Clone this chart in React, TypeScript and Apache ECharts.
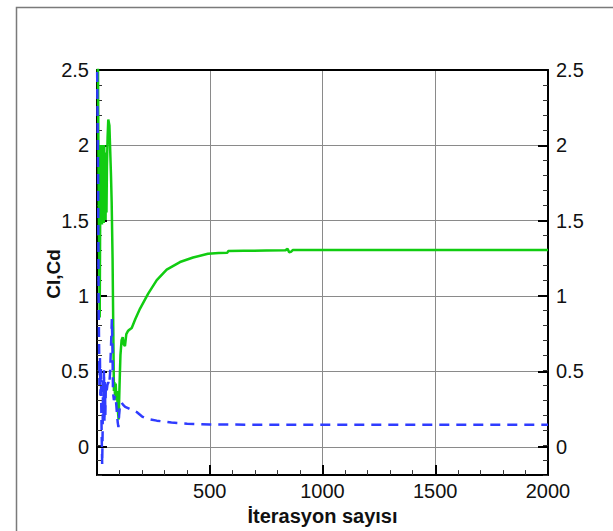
import React, { useEffect, useRef } from 'react';
import * as echarts from 'echarts';

// Cl (lift coefficient) history
const clIter = [0, 4, 7, 10, 12, 14, 16, 18, 20, 22, 24, 26, 28, 30, 32, 34, 36, 38, 40, 42, 44, 47, 50, 55, 62, 65, 69, 72, 75, 77, 80, 83, 86, 89, 92, 96, 100, 104, 109, 114, 119, 124, 130, 137, 145, 154, 170, 191, 227, 265, 309, 368, 426, 492, 540, 578, 582, 650, 750, 835, 845, 852, 860, 868, 1000, 1500, 2000];
const clValues = [2.6, 2.6, 1.8, 1.2, 0.85, 1.5, 2.0, 1.5, 1.95, 1.47, 2.0, 1.55, 1.98, 1.48, 2.0, 1.6, 1.95, 1.5, 1.9, 1.55, 1.85, 2.05, 2.17, 2.13, 1.8, 1.62, 1.25, 0.8, 0.36, 0.42, 0.33, 0.41, 0.3, 0.36, 0.24, 0.17, 0.4, 0.6, 0.7, 0.72, 0.67, 0.66, 0.74, 0.76, 0.77, 0.78, 0.84, 0.91, 1.01, 1.1, 1.17, 1.22, 1.25, 1.275, 1.28, 1.282, 1.293, 1.295, 1.297, 1.298, 1.308, 1.286, 1.288, 1.3, 1.3, 1.3, 1.3];

// Cd (drag coefficient) history
const cdIter = [0, 3, 5, 7, 9, 11, 13, 15, 17, 19, 21, 23, 25, 27, 29, 31, 33, 35, 37, 39, 42, 46, 50, 54, 58, 62, 66, 69, 71, 75, 80, 84, 88, 92, 95, 98, 102, 108, 115, 125, 140, 176, 200, 220, 265, 330, 400, 500, 700, 1000, 2000];
const cdValues = [2.6, 2.6, 1.8, 1.0, 0.7, 0.4, 0.58, 0.33, 0.52, 0.25, 0.05, -0.13, 0.1, 0.45, 0.2, 0.5, 0.15, 0.42, 0.2, 0.38, 0.35, 0.4, 0.42, 0.4, 0.48, 0.65, 0.84, 0.6, 0.35, 0.3, 0.33, 0.3, 0.22, 0.15, 0.12, 0.2, 0.27, 0.285, 0.27, 0.255, 0.245, 0.22, 0.19, 0.176, 0.163, 0.15, 0.142, 0.137, 0.136, 0.136, 0.136];

const xMin = 0;
const xMax = 2000;
const xStep = 500;
const yMin = -0.2;
const yMax = 2.5;
const yMinorStep = 0.1;
const yLabelMin = 0;
const yMajorStep = 0.5;

const xLabel = 'İterasyon sayısı';
const yLabel = 'Cl,Cd';

const FONT = 'Liberation Sans, Arial, Helvetica, sans-serif';

export default function App() {
  const ref = useRef<HTMLDivElement>(null);
  useEffect(() => {
    document.body.style.margin = '0';
    if (!ref.current) return;
    const chart = echarts.init(ref.current, undefined, { renderer: 'svg' });
    const plotLeft = 97;
    const plotTop = 70;
    const plotW = 451;
    const plotH = 407;
    const labelH = (plotH * (yMax - yLabelMin)) / (yMax - yMin);
    const labelStyle = { color: '#111', fontSize: 20, fontFamily: FONT };
    const gridLine = { show: true, lineStyle: { color: '#8a8a8a', width: 1 } };
    const axisLine = { show: true, onZero: false, lineStyle: { color: '#000', width: 2 } };

    chart.setOption({
      animation: false,
      backgroundColor: '#fff',
      grid: [
        { left: plotLeft, top: plotTop, width: plotW, height: plotH },
        { left: plotLeft, top: plotTop, width: plotW, height: labelH },
      ],
      xAxis: [
        {
          gridIndex: 0, type: 'value', min: xMin, max: xMax, interval: xStep, position: 'bottom',
          axisLine,
          axisTick: { show: true, inside: true, length: 10, lineStyle: { color: '#000', width: 2 } },
          minorTick: { show: true, splitNumber: 5, length: 5, lineStyle: { color: '#333', width: 1 } },
          splitLine: gridLine,
          axisLabel: { ...labelStyle, margin: 6, formatter: (v: number) => (v === xMin ? '' : String(v)) },
          name: xLabel, nameLocation: 'middle', nameGap: 24,
          nameTextStyle: { color: '#111', fontSize: 20, fontWeight: 'bold', fontFamily: FONT },
        },
        {
          gridIndex: 0, type: 'value', min: xMin, max: xMax, interval: xStep, position: 'top',
          axisLine, axisTick: { show: false }, axisLabel: { show: false }, splitLine: { show: false },
        },
        { gridIndex: 1, type: 'value', min: xMin, max: xMax, show: false },
      ],
      yAxis: [
        {
          gridIndex: 0, type: 'value', min: yMin, max: yMax, interval: yMinorStep, position: 'left',
          axisLine,
          axisTick: { show: true, inside: true, length: 5, lineStyle: { color: '#333', width: 1 } },
          axisLabel: { show: false }, splitLine: { show: false },
        },
        {
          gridIndex: 0, type: 'value', min: yMin, max: yMax, interval: yMinorStep, position: 'right',
          axisLine,
          axisTick: { show: true, inside: true, length: 5, lineStyle: { color: '#333', width: 1 } },
          axisLabel: { show: false }, splitLine: { show: false },
        },
        {
          gridIndex: 1, type: 'value', min: yLabelMin, max: yMax, interval: yMajorStep, position: 'left',
          axisLine: { show: false },
          axisTick: { show: true, inside: true, length: 10, lineStyle: { color: '#000', width: 2 } },
          axisLabel: { ...labelStyle, margin: 8 },
          splitLine: gridLine,
        },
        {
          gridIndex: 1, type: 'value', min: yLabelMin, max: yMax, interval: yMajorStep, position: 'right',
          axisLine: { show: false },
          axisTick: { show: true, inside: true, length: 10, lineStyle: { color: '#000', width: 2 } },
          axisLabel: { ...labelStyle, margin: 8 },
          splitLine: { show: false },
        },
      ],
      graphic: [
        {
          type: 'polyline',
          shape: { points: [[16.5, 531], [16.5, 7.5], [613, 7.5]] },
          style: { stroke: '#7a7a7a', lineWidth: 1.5, fill: 'none' },
          silent: true,
        },
        {
          type: 'text',
          x: 53, y: 274, rotation: Math.PI / 2,
          style: {
            text: yLabel, fontSize: 19, fontWeight: 'bold', fontFamily: FONT, fill: '#111',
            align: 'center', verticalAlign: 'middle',
          },
        },
      ],
      series: [
        {
          type: 'line', xAxisIndex: 0, yAxisIndex: 0, showSymbol: false, symbol: 'none',
          data: clIter.map((x, i) => [x, clValues[i]]),
          lineStyle: { color: '#11cc11', width: 2.5 },
          clip: true, z: 3,
        },
        {
          type: 'line', xAxisIndex: 0, yAxisIndex: 0, showSymbol: false, symbol: 'none',
          data: cdIter.map((x, i) => [x, cdValues[i]]),
          lineStyle: { color: '#2f3cff', width: 2.5, type: [10, 7] },
          clip: true, z: 4,
        },
      ],
    });
    return () => chart.dispose();
  }, []);
  return <div ref={ref} style={{ width: 613, height: 531 }} />;
}
